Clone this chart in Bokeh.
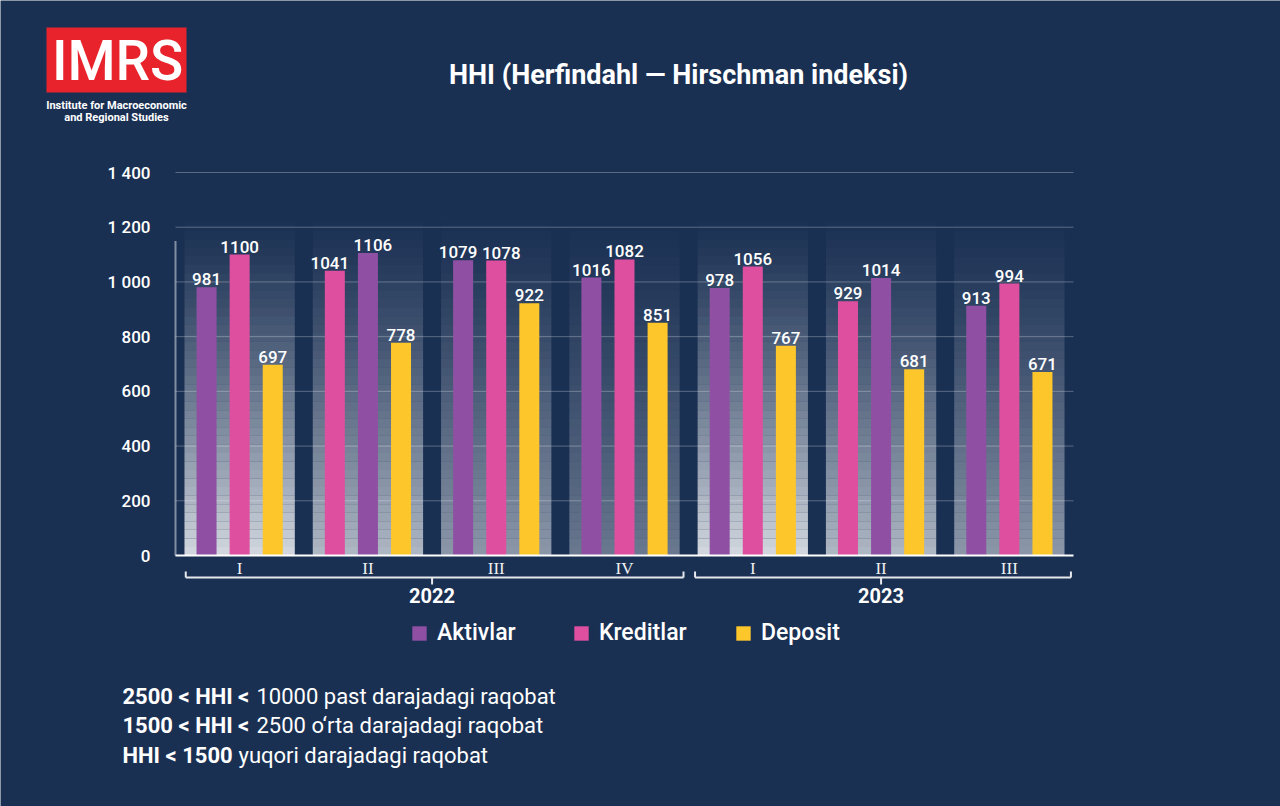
from bokeh.plotting import figure
from bokeh.models import Range1d, ColumnDataSource, Legend, LegendItem
from bokeh.core.properties import value
from bokeh.embed import file_html
from bokeh.resources import INLINE

# ---------------- data ----------------
years = ["2022", "2022", "2022", "2022", "2023", "2023", "2023"]
quarters = ["I", "II", "III", "IV", "I", "II", "III"]
aktivlar = [981, 1106, 1079, 1016, 978, 1014, 913]
kreditlar = [1100, 1041, 1078, 1082, 1056, 929, 994]
deposit = [697, 778, 922, 851, 767, 681, 671]
# in these quarters the Kreditlar bar is drawn before the Aktivlar bar
kreditlar_first = [False, True, False, False, False, True, False]
series_names = ["Aktivlar", "Kreditlar", "Deposit"]
series_colors = ["#8f50a4", "#de4f9f", "#fdc62a"]
y_ticks = [0, 200, 400, 600, 800, 1000, 1200, 1400]
y_tick_labels = ["0", "200", "400", "600", "800", "1 000", "1 200", "1 400"]
title_text = "HHI (Herfindahl \u2014 Hirschman indeksi)"
logo_text = "IMRS"
logo_sub = ["Institute for Macroeconomic", "and Regional Studies"]
notes_bold = ["2500 < HHI <", "1500 < HHI <", "HHI < 1500"]
notes_normal = ["10000 past darajadagi raqobat", "2500 o\u2018rta darajadagi raqobat",
                "yuqori darajadagi raqobat"]

# ---------------- style / layout ----------------
BG = "#1a3053"
W, H = 1280, 806
FONT = "Roboto"
FONT_M = "Roboto Medium"
# page pixel positions of the chart area
FL, FR = 175, 1073
Y0_PAGE, Y1400_PAGE = 555, 172
n = len(quarters)
BAND = (FR - FL) / n
K = (Y0_PAGE - Y1400_PAGE) / 1400.0


def px2x(px):
    return (px - FL) / BAND


def py2y(py):
    return (Y0_PAGE - py) / K


p = figure(width=W, height=H, x_range=Range1d(px2x(0), px2x(W)),
           y_range=Range1d(py2y(H), py2y(0)),
           output_backend="svg", toolbar_location=None, title=None,
           x_axis_location=None, y_axis_location=None,
           min_border=0, min_border_left=0, min_border_right=0,
           min_border_top=0, min_border_bottom=0)
p.background_fill_color = BG
p.border_fill_color = BG
p.outline_line_color = None
p.grid.visible = False

centers = [i + 0.5 for i in range(n)]

# ---------------- background light columns (decoration) ----------------
N_SL = 40
SH_TOP = 1250.0
sx, sb, st, sa = [], [], [], []
seen = {}
for i, yr in enumerate(years):
    k_in_year = seen.get(yr, 0)
    seen[yr] = k_in_year + 1
    amax = 0.9 - 0.17 * k_in_year
    for k in range(N_SL):
        b = SH_TOP * k / N_SL
        t = SH_TOP * (k + 1) / N_SL
        mid = (b + t) / 2
        sx.append(centers[i])
        sb.append(b)
        st.append(t)
        sa.append(amax * (1 - mid / SH_TOP) ** 1.3)
shade = ColumnDataSource(dict(x=sx, bottom=sb, top=st, alpha=sa))
p.vbar(x="x", bottom="bottom", top="top", width=0.86, source=shade,
       fill_color="#e8ebef", fill_alpha="alpha", line_color=None)

# grid lines
grid_y = [t for t in y_ticks if t > 0]
p.segment(x0=[0] * len(grid_y), x1=[n] * len(grid_y), y0=grid_y, y1=grid_y,
          line_color="#ffffff", line_alpha=0.28, line_width=1)

# left white edge of the plotting area
p.segment(x0=[0], y0=[0], x1=[0], y1=[1150], line_color="#ffffff", line_alpha=0.45,
          line_width=2)

# y tick labels
p.text(x=[px2x(150)] * len(y_ticks), y=y_ticks, text=y_tick_labels, text_align="right",
       text_baseline="middle", text_color="#ffffff", text_font=value(FONT_M),
       text_font_size="17px")

# ---------------- bars ----------------
slot1_v, slot1_c, slot2_v, slot2_c = [], [], [], []
for i in range(n):
    if kreditlar_first[i]:
        slot1_v.append(kreditlar[i]); slot1_c.append(series_colors[1])
        slot2_v.append(aktivlar[i]); slot2_c.append(series_colors[0])
    else:
        slot1_v.append(aktivlar[i]); slot1_c.append(series_colors[0])
        slot2_v.append(kreditlar[i]); slot2_c.append(series_colors[1])
# push apart value labels of neighbouring bars of nearly equal height
dx1, dx2 = [], []
for a, b in zip(slot1_v, slot2_v):
    close = abs(a - b) * K < 18
    dx1.append(-5 if close else 0)
    dx2.append(5 if close else 0)
slots = [(slot1_v, slot1_c, dx1), (slot2_v, slot2_c, dx2),
         (deposit, [series_colors[2]] * n, [0] * n)]
offsets = [-0.258, 0.0, 0.258]
bar_w = 0.156
renderers = []
for (vals, cols, dxs), off in zip(slots, offsets):
    src = ColumnDataSource(dict(x=[c + off for c in centers], top=vals, color=cols,
                                dx=dxs, label=[str(v) for v in vals]))
    r = p.vbar(x="x", top="top", width=bar_w, source=src, fill_color="color", line_color=None)
    renderers.append(r)
    p.text(x="x", y="top", text="label", source=src, x_offset="dx",
           text_align="center", text_baseline="bottom", y_offset=-2,
           text_color="#ffffff", text_font=value(FONT_M), text_font_size="17px")

# baseline
p.segment(x0=[0], x1=[n], y0=[0], y1=[0], line_color="#ffffff", line_width=2)

# ---------------- category axis (quarters, brackets, years) ----------------
p.text(x=centers, y=[py2y(568)] * n, text=quarters, text_align="center",
       text_baseline="middle", text_color="#f0f0f0",
       text_font=value("Liberation Serif"), text_font_size="17px")

year_labels = []
for yr in years:
    if yr not in year_labels:
        year_labels.append(yr)
br_y, br_up, br_dn, yr_y = py2y(577), py2y(571), py2y(584), py2y(595)
bx0, bx1, by0, by1, ymid = [], [], [], [], []
end_pad = {"2022": (0.08, 0.96), "2023": (0.05, 0.98)}
for yr in year_labels:
    idx = [i for i, v in enumerate(years) if v == yr]
    left = idx[0] + end_pad[yr][0]
    right = idx[-1] + end_pad[yr][1]
    mid = (idx[0] + idx[-1] + 1) / 2
    ymid.append(mid)
    bx0 += [left, left, right, mid]
    bx1 += [right, left, right, mid]
    by0 += [br_y] * 4
    by1 += [br_y, br_up, br_up, br_dn]
p.segment(x0=bx0, y0=by0, x1=bx1, y1=by1, line_color="#e6e8ec", line_width=2)
p.text(x=ymid, y=[yr_y] * len(ymid), text=year_labels, text_align="center",
       text_baseline="middle", text_color="#ffffff", text_font=value(FONT),
       text_font_style="bold", text_font_size="20px")

# ---------------- legend ----------------
legend = Legend(items=[LegendItem(label=nm, renderers=[r], index=0)
                       for nm, r in zip(series_names, renderers)],
                orientation="horizontal", location=(410, H - 646),
                background_fill_alpha=0, border_line_color=None,
                label_text_color="#ffffff", label_text_font=FONT_M,
                label_text_font_size="23px", glyph_width=18, glyph_height=18,
                label_width=135, label_height=24, label_standoff=9, spacing=0,
                padding=0, margin=0)
p.add_layout(legend, "center")

# ---------------- title, logo, notes ----------------
p.text(x=[px2x(678)], y=[py2y(74)], text=[title_text], text_align="center",
       text_baseline="middle", text_color="#ffffff", text_font=value(FONT),
       text_font_style="bold", text_font_size="27px")

p.quad(left=[px2x(46)], right=[px2x(186)], top=[py2y(27)], bottom=[py2y(92)],
       fill_color="#e8232b", line_color=None)
p.text(x=[px2x(117)], y=[py2y(60)], text=[logo_text], text_align="center",
       text_baseline="middle", text_color="#ffffff",
       text_font=value(FONT_M), text_font_size="55px")
p.text(x=[px2x(116)] * 2, y=[py2y(105), py2y(117)], text=logo_sub, text_align="center",
       text_baseline="middle", text_color="#ffffff", text_font=value(FONT),
       text_font_style="bold", text_font_size="11px")

note_y = [py2y(696), py2y(725), py2y(755)]
note_x2 = [px2x(256), px2x(256), px2x(238)]
p.text(x=[px2x(122)] * 3, y=note_y, text=notes_bold, text_align="left",
       text_baseline="middle", text_color="#ffffff", text_font=value(FONT),
       text_font_style="bold", text_font_size="22px")
p.text(x=note_x2, y=note_y, text=notes_normal, text_align="left",
       text_baseline="middle", text_color="#ffffff", text_font=value(FONT),
       text_font_size="22px")

open("out.html", "w").write(file_html(p, INLINE))
